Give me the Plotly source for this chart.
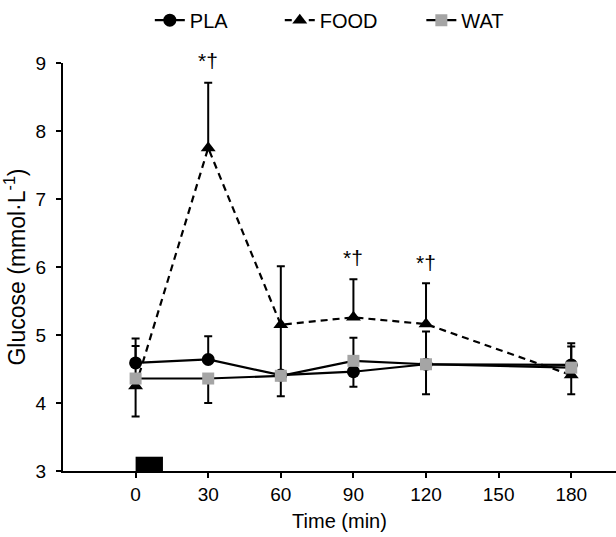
import plotly.graph_objects as go

times = [0, 30, 60, 90, 120, 180]
pla = [4.59, 4.64, 4.41, 4.46, 4.57, 4.56]
food = [4.25, 7.75, 5.15, 5.26, 5.16, 4.41]
wat = [4.36, 4.36, 4.40, 4.62, 4.57, 4.52]

pla_plus = [0.36, 0.34, 0, 0, 0, 0.32]
pla_minus = [0, 0, 0.31, 0.22, 0, 0]
food_plus = [0.59, 0.96, 0.86, 0.56, 0.60, 0]
food_minus = [0, 0, 0.75, 0, 0, 0.28]
wat_plus = [0, 0, 0, 0.34, 0.48, 0.31]
wat_minus = [0.56, 0.36, 0, 0, 0.44, 0]

sig_times = [30, 90, 120]
sig_levels = [9.04, 6.14, 6.07]
sig_label = "*†"

feed_start, feed_end, feed_height = 0, 11.3, 3.21

x_ticks = [0, 30, 60, 90, 120, 150, 180]
y_ticks = [3, 4, 5, 6, 7, 8, 9]
y_min, y_max = 3, 9

FONT = "Liberation Sans, Arial, sans-serif"

def err(plus, minus):
    return dict(type="data", symmetric=False, array=plus, arrayminus=minus,
                color="black", thickness=2, width=4)

fig = go.Figure()
fig.add_trace(go.Scatter(
    x=times, y=pla, name="PLA", mode="lines+markers", legend="legend",
    line=dict(color="black", width=2.2),
    marker=dict(symbol="circle", size=13, color="black"),
    error_y=err(pla_plus, pla_minus)))
fig.add_trace(go.Scatter(
    x=times, y=food, name="FOOD", mode="lines+markers", legend="legend2",
    line=dict(color="black", width=2.2, dash="7px,5px"),
    marker=dict(symbol="triangle-up", size=13, color="black"),
    error_y=err(food_plus, food_minus)))
fig.add_trace(go.Scatter(
    x=times, y=wat, name="WAT", mode="lines+markers", legend="legend3",
    line=dict(color="black", width=2.2),
    marker=dict(symbol="square", size=12, color="#a5a5a5"),
    error_y=err(wat_plus, wat_minus)))

fig.add_shape(type="rect", x0=feed_start, x1=feed_end, y0=y_min, y1=feed_height,
              xref="x", yref="y", fillcolor="black", line=dict(width=0),
              layer="above")

for t, lv in zip(sig_times, sig_levels):
    fig.add_annotation(x=t, xref="x", y=(lv - y_min) / (y_max - y_min), yref="paper",
                       text=sig_label, showarrow=False,
                       font=dict(family=FONT, size=21, color="black"),
                       xanchor="center", yanchor="middle")

def leg(xpos):
    return dict(orientation="h", x=xpos, xanchor="left", y=1.105,
                yanchor="middle", font=dict(family=FONT, size=20),
                bgcolor="rgba(0,0,0,0)", itemwidth=30)

fig.update_layout(
    width=616, height=537,
    margin=dict(l=63, r=0, t=63, b=66),
    paper_bgcolor="white", plot_bgcolor="white",
    font=dict(family=FONT, size=19, color="black"),
    showlegend=True,
    legend=leg(0.157),
    legend2=leg(0.392),
    legend3=leg(0.648),
    xaxis=dict(range=[-30, 198.5], tickvals=x_ticks, showgrid=False,
               zeroline=False, showline=True, linecolor="black", linewidth=2,
               ticks="outside", ticklen=5, tickwidth=2, tickcolor="black",
               title=dict(text="Time (min)", font=dict(size=20), standoff=10)),
    yaxis=dict(range=[y_min, y_max], tickvals=y_ticks, showgrid=False,
               zeroline=False, showline=True, linecolor="black", linewidth=2,
               ticks="outside", ticklen=5, tickwidth=2, tickcolor="black",
               ticklabelstandoff=6,
               title=dict(text="Glucose (mmol·L<sup>-1</sup>)", font=dict(size=23),
                          standoff=6)),
)

fig.write_html("out.html")
